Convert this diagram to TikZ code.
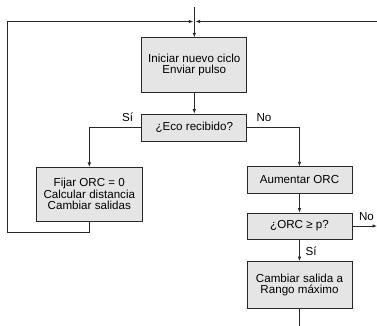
\documentclass[tikz,border=0pt]{standalone}
\usepackage{fontspec}
\setmainfont{Liberation Sans}
\usetikzlibrary{arrows.meta}
\definecolor{boxfill}{RGB}{229,229,229}
\definecolor{linec}{RGB}{40,40,40}
\tikzset{
  flowbox/.style={draw=linec, line width=0.8pt, fill=boxfill, inner sep=0pt,
    minimum width=105pt, align=center, font=\fontsize{11.6}{11.6}\selectfont},
  conn/.style={draw=linec, line width=0.8pt},
  arr/.style={conn, -{Latex[length=4.5pt,width=3.6pt]}},
  lbl/.style={inner sep=0pt, anchor=base, font=\fontsize{11.6}{11.6}\selectfont}
}
\begin{document}
\begin{tikzpicture}[x=1pt,y=-1pt]
\useasboundingbox (0,0) rectangle (377,326);
\node[flowbox, minimum height=54.6pt] (b1) at (194.3,65) {Iniciar nuevo ciclo\\Enviar pulso};
\node[flowbox, minimum height=27pt] (d1) at (194.3,127.5) {¿Eco recibido?};
\node[flowbox, minimum width=106.7pt, minimum height=53.7pt] (b2) at (89.3,194.2) {Fijar ORC = 0\\Calcular distancia\\Cambiar salidas};
\node[flowbox, minimum height=26.5pt] (b3) at (299.5,180) {Aumentar ORC};
\node[flowbox, minimum height=26pt] (d2) at (299.5,226) {¿ORC ≥ p?};
\node[flowbox, minimum height=46.7pt] (b4) at (299.5,284.8) {Cambiar salida a\\Rango máximo};
\coordinate (top) at (194.3,6.7);
\coordinate (jl) at (193.3,21.5);
\coordinate (jr) at (195.5,21.5);
\coordinate (rin) at (377,21.5);
\coordinate (lb) at (7.3,232.7);
\coordinate (lt) at (7.3,21.5);
\coordinate (nout) at (377,226);
\coordinate (bot) at (299.5,326);
\draw[arr] (top) -- (b1.north);
\draw[arr] (b1) -- (d1);
\draw[arr] (d1.west) -| (b2.north);
\draw[arr] (d1.east) -| (b3.north);
\draw[arr] (b3) -- (d2);
\draw[arr] (d2) -- (b4);
\draw[arr] (d2.east) -- (nout);
\draw[conn] (b4.south) -- (bot);
\draw[arr] (b2.south) |- (lb) -- (lt) -- (jl);
\draw[arr] (rin) -- (jr);
\node[lbl] (si1) at (127.7,121.7) {Sí};
\node[lbl] (no1) at (264,121.7) {No};
\node[lbl] (si2) at (311,255) {Sí};
\node[lbl] (no2) at (366.5,220) {No};
\end{tikzpicture}
\end{document}
